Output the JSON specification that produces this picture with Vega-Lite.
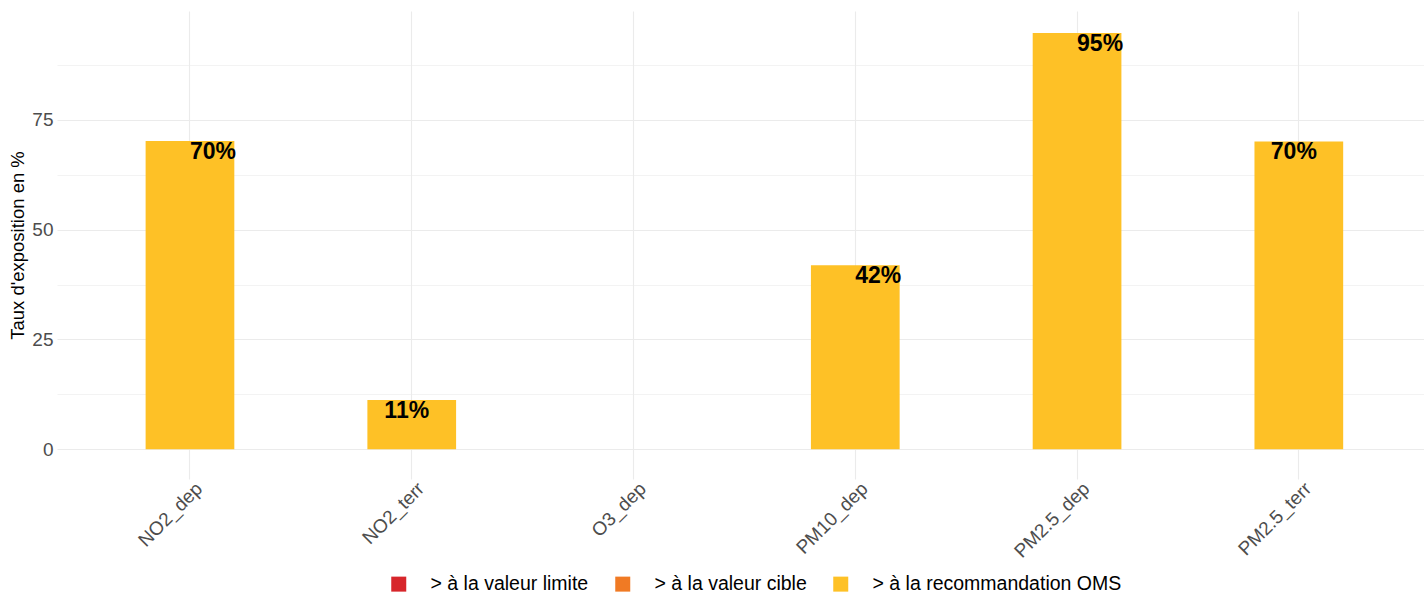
{
  "$schema": "https://vega.github.io/schema/vega-lite/v6.json",
  "autosize": {"type": "none"},
  "padding": {"left": 57, "top": 11, "right": 0, "bottom": 115},
  "width": 1367,
  "height": 468,
  "config": {
    "font": "Liberation Sans",
    "view": {"stroke": null},
    "axis": {"domain": false, "ticks": false, "gridColor": "#EBEBEB", "labelColor": "#4D4D4D", "labelFont": "Liberation Sans", "titleFont": "Liberation Sans"}
  },
  "data": {
    "values": [
      {"polluant": "NO2_dep", "taux": 70.2, "label": "70%", "categorie": "> à la recommandation OMS", "pos": "left"},
      {"polluant": "NO2_terr", "taux": 11.2, "label": "11%", "categorie": "> à la recommandation OMS", "pos": "center"},
      {"polluant": "O3_dep", "taux": 0, "label": "", "categorie": "> à la recommandation OMS", "pos": "none"},
      {"polluant": "PM10_dep", "taux": 41.9, "label": "42%", "categorie": "> à la recommandation OMS", "pos": "left"},
      {"polluant": "PM2.5_dep", "taux": 94.8, "label": "95%", "categorie": "> à la recommandation OMS", "pos": "left"},
      {"polluant": "PM2.5_terr", "taux": 70.1, "label": "70%", "categorie": "> à la recommandation OMS", "pos": "center"}
    ]
  },
  "encoding": {
    "x": {
      "field": "polluant", "type": "nominal", "sort": null,
      "scale": {"paddingInner": 0.6, "paddingOuter": 0.382, "align": 0.523},
      "axis": {"title": null, "labelAngle": -45, "labelAlign": "right", "labelBaseline": "top", "labelPadding": 0, "labelOffset": 3, "labelFontSize": 19, "bandPosition": 0.5, "grid": true, "gridWidth": 1.1}
    },
    "y": {
      "field": "taux", "type": "quantitative",
      "scale": {"domain": [-6.8, 99.8], "nice": false, "zero": false},
      "axis": {
        "title": "Taux d'exposition en %", "titleFontSize": 18.5, "titleFontWeight": "normal", "titleColor": "#000000", "titlePadding": 4,
        "values": [0, 12.5, 25, 37.5, 50, 62.5, 75, 87.5],
        "labelExpr": "datum.value % 25 === 0 ? datum.label : ''",
        "labelFontSize": 19, "labelPadding": 4,
        "gridWidth": {"condition": {"test": "datum.value % 25 !== 0", "value": 0.6}, "value": 1.1}
      }
    }
  },
  "layer": [
    {
      "mark": {"type": "bar"},
      "encoding": {
        "y2": {"datum": 0},
        "color": {
          "field": "categorie", "type": "nominal",
          "scale": {"domain": ["> à la valeur limite", "> à la valeur cible", "> à la recommandation OMS"], "range": ["#D7262B", "#F07A24", "#FEC126"]},
          "legend": {"title": null, "orient": "none", "direction": "horizontal", "legendX": 332, "legendY": 563, "symbolType": "square", "symbolSize": 225, "symbolStrokeWidth": 0, "symbolOpacity": 1, "labelFontSize": 19.5, "labelColor": "#000000", "labelOffset": 22, "labelLimit": 500, "columnPadding": 24, "labelFont": "Liberation Sans"}
        }
      }
    },
    {
      "transform": [{"filter": "datum.pos === 'left'"}],
      "mark": {"type": "text", "align": "left", "baseline": "top", "fontSize": 23, "fontWeight": "bold", "color": "#000000", "dy": 0},
      "encoding": {"text": {"field": "label"}}
    },
    {
      "transform": [{"filter": "datum.pos === 'center'"}],
      "mark": {"type": "text", "align": "center", "baseline": "top", "fontSize": 23, "fontWeight": "bold", "color": "#000000", "dx": -5, "dy": 0},
      "encoding": {"text": {"field": "label"}}
    }
  ]
}
